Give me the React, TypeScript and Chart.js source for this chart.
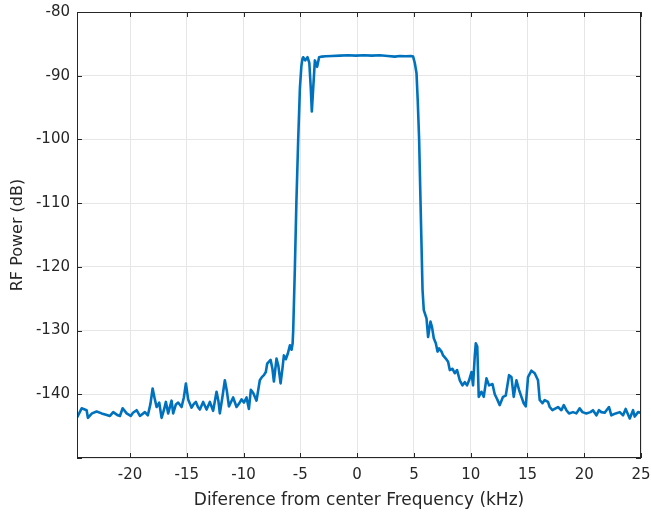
import { useEffect, useRef } from "react";
import { Chart, registerables } from "chart.js";

Chart.register(...registerables);

// Frequency offset from the carrier (kHz)
const freqKHz = [
  -24.65, -24.26, -23.82, -23.71, -23.35, -22.94, -22.5, -22.12, -21.77, -21.48,
  -21.07, -20.89, -20.65, -20.3, -19.94, -19.74, -19.42, -19.13, -18.69, -18.43,
  -18.2, -18.01, -17.85, -17.66, -17.43, -17.22, -17.02, -16.84, -16.64, -16.34,
  -16.2, -15.96, -15.76, -15.46, -15.26, -15.08, -14.88, -14.58, -14.38, -14.2,
  -14.02, -13.85, -13.56, -13.26, -12.97, -12.68, -12.38, -12.22, -12.09, -11.87,
  -11.65, -11.47, -11.29, -10.92, -10.62, -10.41, -10.18, -9.97, -9.74, -9.53,
  -9.36, -9.15, -8.86, -8.57, -8.39, -8.21, -8.04, -7.92, -7.62, -7.46,
  -7.33, -7.1, -6.94, -6.74, -6.58, -6.45, -6.28, -6.1, -5.92, -5.77,
  -5.68, -5.63, -5.48, -5.35, -5.19, -5.04, -4.91, -4.81, -4.75, -4.58,
  -4.37, -4.21, -4.08, -3.99, -3.87, -3.72, -3.52, -3.35, -3.11, -2.76,
  -2.23, -1.52, -0.82, -0.11, 0.59, 1.29, 1.99, 2.7, 3.32, 3.76,
  4.29, 4.73, 4.93, 5.08, 5.23, 5.34, 5.46, 5.56, 5.65, 5.76,
  5.87, 6.11, 6.25, 6.46, 6.6, 6.75, 6.93, 7.08, 7.22, 7.43,
  7.57, 7.81, 8.01, 8.16, 8.4, 8.6, 8.8, 9.04, 9.28, 9.48,
  9.68, 9.86, 10.07, 10.21, 10.36, 10.45, 10.58, 10.71, 10.95, 11.15,
  11.39, 11.62, 11.92, 12.12, 12.34, 12.56, 12.85, 13.09, 13.38, 13.59,
  13.79, 14.03, 14.26, 14.47, 14.67, 14.85, 15.05, 15.35, 15.64, 15.93,
  16.08, 16.32, 16.52, 16.81, 16.96, 17.2, 17.4, 17.69, 17.99, 18.2,
  18.43, 18.66, 19.01, 19.31, 19.6, 19.84, 20.19, 20.55, 20.77, 21.07,
  21.3, 21.51, 21.8, 22.18, 22.39, 22.77, 23.13, 23.42, 23.65, 24.01,
  24.3, 24.45, 24.74, 25.0,
];

// Measured RF power (dB)
const powerDb = [
  -143.6, -142.2, -142.5, -143.7, -143.0, -142.7, -143.0, -143.2, -143.4, -142.8,
  -143.3, -143.4, -142.2, -143.0, -143.4, -142.9, -142.5, -143.4, -142.8, -143.3,
  -141.5, -139.1, -140.5, -142.0, -141.3, -143.7, -142.5, -141.2, -143.0, -141.0,
  -143.0, -141.6, -141.3, -142.0, -140.5, -138.3, -140.8, -142.1, -141.5, -141.2,
  -142.0, -142.4, -141.2, -142.4, -141.2, -142.6, -139.6, -141.0, -143.0, -140.5,
  -137.8, -139.5, -141.9, -140.5, -142.0, -141.5, -140.8, -141.3, -140.5, -142.3,
  -139.3, -139.8, -141.0, -137.8, -137.3, -137.0, -136.5, -135.2, -134.6, -136.0,
  -138.0, -134.4, -135.5, -138.3, -136.0, -133.9, -134.5, -133.6, -132.3, -133.0,
  -132.0, -130.0, -120.0, -110.0, -100.0, -92.0, -88.5, -87.3, -87.1, -87.6,
  -87.1, -88.0, -92.0, -95.6, -92.0, -87.6, -88.6, -87.1, -87.0, -86.95,
  -86.9, -86.85, -86.8, -86.85, -86.8, -86.85, -86.8, -86.9, -87.0, -86.9,
  -86.95, -86.9, -87.0, -88.0, -89.6, -94.0, -100.0, -108.0, -115.0, -123.6,
  -126.8, -128.1, -131.0, -128.6, -129.5, -131.2, -132.0, -133.3, -132.8, -133.3,
  -133.9, -134.4, -134.9, -136.2, -136.0, -136.7, -136.2, -137.8, -138.6, -138.1,
  -138.6, -137.8, -136.5, -138.6, -134.0, -132.0, -132.5, -140.4, -139.6, -140.4,
  -137.5, -138.6, -138.4, -140.0, -140.8, -141.7, -140.4, -140.2, -137.0, -137.3,
  -140.4, -137.8, -139.3, -140.4, -141.4, -141.9, -137.3, -136.3, -136.7, -137.8,
  -140.9, -141.4, -140.9, -141.2, -142.0, -142.5, -142.3, -142.0, -142.5, -141.7,
  -142.5, -143.0, -142.8, -143.0, -142.2, -142.8, -143.0, -142.8, -142.5, -143.3,
  -142.5, -142.8, -142.9, -142.0, -143.3, -143.0, -142.8, -143.3, -142.3, -143.8,
  -142.5, -143.5, -142.8, -142.9,
];

const xTickValues = [-20, -15, -10, -5, 0, 5, 10, 15, 20, 25];
const yTickValues = [-150, -140, -130, -120, -110, -100, -90, -80];

const AXIS_COLOR = "#262626";
const GRID_COLOR = "#e6e6e6";
const LINE_COLOR = "#0072BD";

// Box around the axes with inward tick marks on all four sides
const axesBox = {
  id: "axesBox",
  afterDraw(chart: any) {
    const { ctx, chartArea, scales } = chart;
    const { left, right, top, bottom } = chartArea;
    const x = scales.x;
    const y = scales.y;
    const len = 5;
    ctx.save();
    ctx.strokeStyle = AXIS_COLOR;
    ctx.lineWidth = 1;
    ctx.beginPath();
    x.ticks.forEach((t: any) => {
      const px = Math.round(x.getPixelForValue(t.value)) + 0.5;
      ctx.moveTo(px, bottom);
      ctx.lineTo(px, bottom - len);
      ctx.moveTo(px, top);
      ctx.lineTo(px, top + len);
    });
    y.ticks.forEach((t: any) => {
      const py = Math.round(y.getPixelForValue(t.value)) + 0.5;
      ctx.moveTo(left, py);
      ctx.lineTo(left + len, py);
      ctx.moveTo(right, py);
      ctx.lineTo(right - len, py);
    });
    ctx.stroke();
    ctx.strokeRect(
      Math.round(left) + 0.5,
      Math.round(top) + 0.5,
      Math.round(right - left) - 1,
      Math.round(bottom - top) - 1
    );
    ctx.restore();
  },
};

// Keep the plot frame fixed: no extra room reserved for edge labels
const clearEdgePadding = (scale: any) => {
  scale.paddingTop = 0;
  scale.paddingBottom = 0;
  scale.paddingLeft = 0;
  scale.paddingRight = 0;
};

export default function App() {
  const canvasRef = useRef<HTMLCanvasElement | null>(null);

  useEffect(() => {
    document.body.style.margin = "0";
    const canvas = canvasRef.current;
    if (!canvas) return;

    const points = freqKHz.map((f, i) => ({ x: f, y: powerDb[i] }));
    const font = "'DejaVu Sans', 'Liberation Sans', Arial, sans-serif";

    const chart = new Chart(canvas, {
      type: "line",
      data: {
        datasets: [
          {
            data: points,
            borderColor: LINE_COLOR,
            borderWidth: 2.6,
            pointRadius: 0,
            tension: 0,
            fill: false,
            borderJoinStyle: "round",
            borderCapStyle: "round",
          },
        ],
      },
      options: {
        animation: false,
        responsive: false,
        maintainAspectRatio: false,
        layout: { padding: { top: 12, right: 10, left: 0, bottom: 0 } },
        plugins: {
          legend: { display: false },
          tooltip: { enabled: false },
        },
        scales: {
          x: {
            type: "linear",
            min: -24.67,
            max: 25,
            afterBuildTicks: (scale: any) => {
              scale.ticks = xTickValues.map((v) => ({ value: v }));
            },
            afterFit: (scale: any) => {
              scale.height = 57;
              clearEdgePadding(scale);
            },
            ticks: {
              color: AXIS_COLOR,
              font: { family: font, size: 15 },
              padding: 8,
              maxRotation: 0,
              autoSkip: false,
              callback: (v: any) => String(v),
            },
            grid: { color: GRID_COLOR, drawTicks: false, lineWidth: 1 },
            border: { display: false },
            title: {
              display: true,
              text: "Diference from center Frequency (kHz)",
              color: AXIS_COLOR,
              font: { family: font, size: 17 },
              padding: { top: 0, bottom: 4 },
            },
          },
          y: {
            type: "linear",
            min: -150,
            max: -80,
            afterBuildTicks: (scale: any) => {
              scale.ticks = yTickValues.map((v) => ({ value: v }));
            },
            afterFit: (scale: any) => {
              scale.width = 77;
              clearEdgePadding(scale);
            },
            ticks: {
              color: AXIS_COLOR,
              font: { family: font, size: 15 },
              padding: 7,
              autoSkip: false,
              callback: (v: any) => (v === -150 ? "" : String(v)),
            },
            grid: { color: GRID_COLOR, drawTicks: false, lineWidth: 1 },
            border: { display: false },
            title: {
              display: true,
              text: "RF Power (dB)",
              color: AXIS_COLOR,
              font: { family: font, size: 16 },
              padding: { top: 8, bottom: 0 },
            },
          },
        },
      },
      plugins: [axesBox],
    });

    return () => chart.destroy();
  }, []);

  return (
    <canvas
      ref={canvasRef}
      width={651}
      height={515}
      style={{ display: "block", width: 651, height: 515 }}
    />
  );
}
